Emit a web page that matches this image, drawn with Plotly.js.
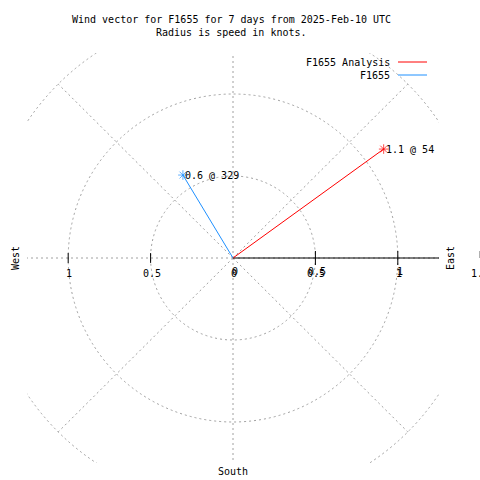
<!DOCTYPE html>
<html>
<head>
<meta charset="utf-8">
<script src="https://cdn.plot.ly/plotly-3.0.1.min.js"></script>
<style>html,body{margin:0;padding:0;background:#fff;}#chart{width:480px;height:480px;}</style>
</head>
<body>
<div id="chart"></div>
<script>
// ---- data ----
const seriesNames = ["F1655 Analysis", "F1655"];
const speedKnots = [1.13, 0.59];
const directionDeg = [54, 329];
const ringRadii = [0.5, 1.0, 1.5];
const spokeAngles = [0, 45, 90, 135, 180, 225, 270, 315];
const spokeLength = 1.5;
const leftTickValues = [-1, -0.5];
const leftTickLabels = ["1", "0.5"];
const rightTickValues = [0, 0.5, 1];
const rightTickLabels = ["0", "0.5", "1"];
const edgeTickValues = [1.5];
const edgeTickLabels = ["1.5"];
const compassNames = ["West", "East", "South"];
const titleLines = ["Wind vector for F1655 for 7 days from 2025-Feb-10 UTC", "Radius is speed in knots."];

// ---- styles ----
const AXIS_RANGE = [-1.25, 1.25];
const seriesColors = ["#ff0000", "#1e90ff"];
const gridColor = "#a0a0a0";
const FONT = "DejaVu Sans Mono, Liberation Mono, monospace";
const M = {l: 27, r: 41, t: 53, b: 17};
const PW = 480 - M.l - M.r, PH = 480 - M.t - M.b;
const rad = d => d * Math.PI / 180;
const toPaperX = v => (v - AXIS_RANGE[0]) / (AXIS_RANGE[1] - AXIS_RANGE[0]);
const pxToPaperX = px => (px - M.l) / PW;
const pxToPaperY = py => (480 - M.b - py) / PH;

const traces = [];
const shapes = [];
const annotations = [];

// spokes (dashed grid)
spokeAngles.forEach(a => {
  traces.push({
    x: [0, spokeLength * Math.sin(rad(a))],
    y: [0, spokeLength * Math.cos(rad(a))],
    mode: "lines", line: {color: gridColor, width: 1, dash: "2px,3px"},
    hoverinfo: "skip", showlegend: false
  });
});
// rings
ringRadii.forEach(r => {
  shapes.push({type: "circle", xref: "x", yref: "y", x0: -r, x1: r, y0: -r, y1: r,
    line: {color: gridColor, width: 1, dash: "2px,3px"}, layer: "below"});
});
// solid polar axis on the right
traces.push({x: [0, AXIS_RANGE[1]], y: [0, 0], mode: "lines", line: {color: "#000", width: 1.2},
  hoverinfo: "skip", showlegend: false});
// ticks
traces.push({x: rightTickValues.slice(1), y: rightTickValues.slice(1).map(() => 0), mode: "markers",
  marker: {symbol: "line-ns-open", size: 10, color: "#000", line: {color: "#000", width: 1}},
  hoverinfo: "skip", showlegend: false, cliponaxis: false});
traces.push({x: leftTickValues, y: leftTickValues.map(() => 0), mode: "markers",
  marker: {symbol: "line-ns-open", size: 7, color: "#000", line: {color: "#000", width: 1}},
  hoverinfo: "skip", showlegend: false, cliponaxis: false});
edgeTickValues.forEach(v => {
  shapes.push({type: "line", xref: "paper", yref: "y", x0: toPaperX(v), x1: toPaperX(v),
    ysizemode: "pixel", yanchor: 0, y0: 0, y1: 7, line: {color: "#000", width: 1}});
});

// wind vectors
seriesNames.forEach((name, i) => {
  const ex = speedKnots[i] * Math.sin(rad(directionDeg[i]));
  const ey = speedKnots[i] * Math.cos(rad(directionDeg[i]));
  traces.push({
    x: [0, ex], y: [0, ey], name: name, mode: "lines+markers",
    line: {color: seriesColors[i], width: 1},
    marker: {symbol: "asterisk-open", size: [0, 8], color: seriesColors[i], line: {color: seriesColors[i], width: 1}},
    showlegend: false, cliponaxis: false
  });
  annotations.push({x: ex, y: ey, xref: "x", yref: "y", xanchor: "left", yanchor: "middle",
    text: speedKnots[i].toFixed(1) + " @ " + directionDeg[i], showarrow: false,
    font: {family: FONT, size: 10, color: "#000"}});
  // legend (gnuplot style: text right-aligned, sample on the right)
  annotations.push({x: pxToPaperX(392), y: pxToPaperY(62 + 13 * i), xref: "paper", yref: "paper",
    xanchor: "right", yanchor: "middle",
    text: name, showarrow: false, font: {family: FONT, size: 10, color: "#000"}});
  shapes.push({type: "line", xref: "paper", yref: "paper",
    x0: pxToPaperX(398), x1: pxToPaperX(427),
    y0: pxToPaperY(62 + 13 * i), y1: pxToPaperY(62 + 13 * i),
    line: {color: seriesColors[i], width: 1}});
});

// tick labels
const tickLabel = (v, t, dx, dy) => ({x: v, y: 0, xref: "x", yref: "y", xanchor: "center", yanchor: "middle",
  yshift: dy, xshift: dx, text: t, showarrow: false, font: {family: FONT, size: 10, color: "#000"}});
leftTickValues.forEach((v, i) => annotations.push(tickLabel(v, leftTickLabels[i], 1, -15)));
rightTickValues.forEach((v, i) => {
  annotations.push(tickLabel(v, rightTickLabels[i], 1, -15));
  annotations.push(tickLabel(v, rightTickLabels[i], 2, -13));
});
edgeTickValues.forEach((v, i) => annotations.push({x: toPaperX(v), y: 0, xref: "paper", yref: "y",
  xanchor: "center", yanchor: "middle", yshift: -15, text: edgeTickLabels[i], showarrow: false,
  font: {family: FONT, size: 10, color: "#000"}}));

// compass labels
annotations.push({x: AXIS_RANGE[0], y: 0, xref: "x", yref: "y", xshift: -12, text: compassNames[0], textangle: -90,
  showarrow: false, font: {family: FONT, size: 10, color: "#000"}});
annotations.push({x: AXIS_RANGE[1], y: 0, xref: "x", yref: "y", xshift: 11, text: compassNames[1], textangle: -90,
  showarrow: false, font: {family: FONT, size: 10, color: "#000"}});
annotations.push({x: 0, y: AXIS_RANGE[0], xref: "x", yref: "y", yshift: -8, text: compassNames[2],
  showarrow: false, font: {family: FONT, size: 10, color: "#000"}});

// title as two centered lines (gnuplot style)
titleLines.forEach((t, i) => {
  annotations.push({x: 231.5 / 480, y: 1 - (20 + 13 * i) / 480, xref: "paper", yref: "paper",
    text: t, showarrow: false, xanchor: "center", yanchor: "middle",
    font: {family: FONT, size: 10, color: "#000"}});
});
// map title annotations into container-space via paper coordinates
annotations.forEach(a => {
  if (a.xref === "paper" && titleLines.includes(a.text)) {
    a.x = (a.x * 480 - M.l) / PW;
    a.y = ((a.y * 480) - M.b) / PH;
  }
});

const layout = {
  width: 480, height: 480,
  margin: {l: M.l, r: M.r, t: M.t, b: M.b, pad: 0},
  paper_bgcolor: "#fff", plot_bgcolor: "#fff",
  xaxis: {range: AXIS_RANGE, showgrid: false, zeroline: false, showticklabels: false, showline: false, ticks: "", fixedrange: true},
  yaxis: {range: AXIS_RANGE, showgrid: false, zeroline: false, showticklabels: false, showline: false, ticks: "", fixedrange: true},
  shapes: shapes, annotations: annotations, showlegend: false
};
Plotly.newPlot("chart", traces, layout, {displayModeBar: false, staticPlot: true});
</script>
</body>
</html>
